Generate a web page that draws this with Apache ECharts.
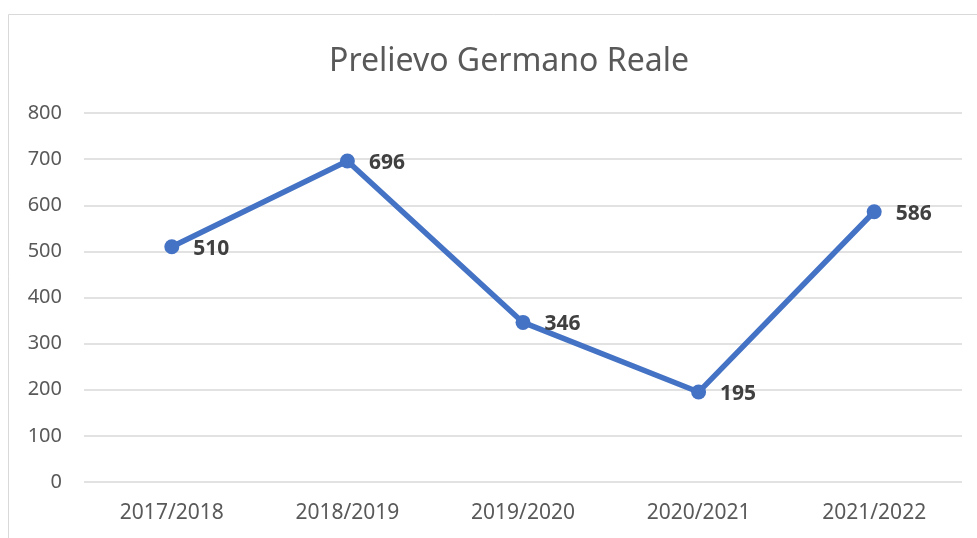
<!DOCTYPE html>
<html>
<head>
<meta charset="utf-8">
<script src="https://cdn.jsdelivr.net/npm/echarts@6/dist/echarts.min.js"></script>
<style>
  html, body { margin: 0; padding: 0; background: #fff; }
  #chart { width: 977px; height: 538px; }
</style>
</head>
<body>
<div id="chart"></div>
<script>
const stagioni = ['2017/2018', '2018/2019', '2019/2020', '2020/2021', '2021/2022'];
const prelievi = [510, 696, 346, 195, 586];
const titolo = 'Prelievo Germano Reale';

const chart = echarts.init(document.getElementById('chart'));
const font = '"Noto Sans", "Liberation Sans", sans-serif';

chart.setOption({
  animation: false,
  textStyle: { fontFamily: font },
  graphic: [{
    type: 'rect',
    shape: { x: 8.5, y: 14.5, width: 1000, height: 600 },
    style: { fill: 'none', stroke: '#d9d9d9', lineWidth: 1 },
    silent: true
  }],
  title: {
    text: titolo,
    left: 504,
    textAlign: 'center',
    top: 41,
    textStyle: { fontFamily: font, fontSize: 32, fontWeight: 'normal', color: '#595959' }
  },
  grid: { left: 84, right: 15, top: 113, bottom: 56 },
  xAxis: {
    type: 'category',
    data: stagioni,
    boundaryGap: true,
    axisLine: { show: false },
    axisTick: { show: false },
    axisLabel: { fontSize: 21, color: '#595959', margin: 21, fontFamily: font }
  },
  yAxis: {
    type: 'value',
    min: 0,
    max: 800,
    interval: 100,
    axisLine: { show: false },
    axisTick: { show: false },
    axisLabel: { fontSize: 20, color: '#595959', margin: 22, fontFamily: font },
    splitLine: { lineStyle: { color: '#d9d9d9', width: 1.5 } }
  },
  series: [{
    type: 'line',
    data: prelievi,
    symbol: 'circle',
    symbolSize: 15,
    lineStyle: { color: '#4472c4', width: 5.5 },
    itemStyle: { color: '#4472c4' },
    label: {
      show: true,
      position: 'right',
      distance: 14,
      offset: [0, 2],
      fontSize: 21,
      fontWeight: 'bold',
      color: '#404040',
      fontFamily: font
    }
  }]
});
</script>
</body>
</html>
